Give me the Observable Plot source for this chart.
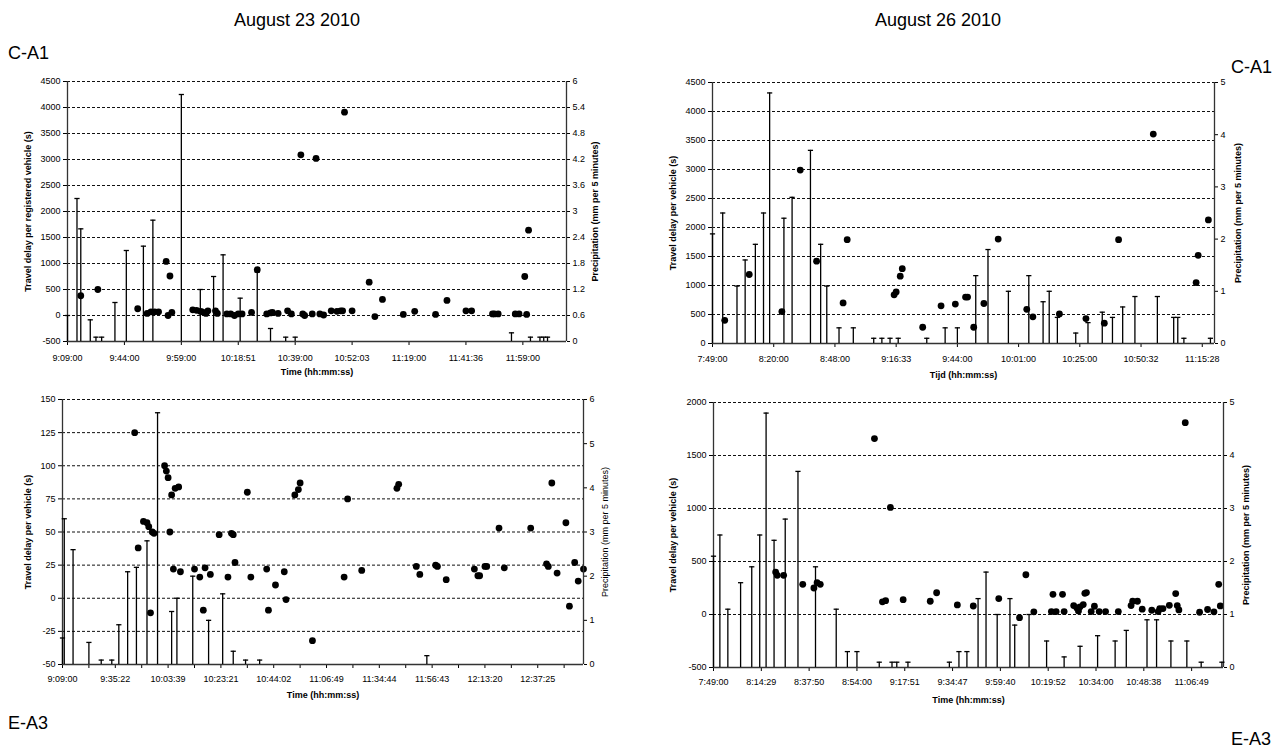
<!DOCTYPE html>
<html>
<head>
<meta charset="utf-8">
<script src="https://cdn.jsdelivr.net/npm/d3@7"></script>
<script src="https://cdn.jsdelivr.net/npm/@observablehq/plot@0.6"></script>
<style>
  html, body { margin: 0; padding: 0; background: #fff; overflow: hidden; }
  #page { position: relative; width: 1279px; height: 748px; font-family: Arial, "Liberation Sans", sans-serif; color: #000; }
  .lbl { position: absolute; font-size: 18px; line-height: 20px; white-space: nowrap; }
  .layer { position: absolute; }
</style>
</head>
<body>
<div id="page">
  <div class="lbl" style="left:197px;width:200px;text-align:center;top:10px;">August 23 2010</div>
  <div class="lbl" style="left:838px;width:200px;text-align:center;top:10px;">August 26 2010</div>
  <div class="lbl" style="left:8px;top:43px;">C-A1</div>
  <div class="lbl" style="right:7px;top:57px;">C-A1</div>
  <div class="lbl" style="left:8px;top:713px;">E-A3</div>
  <div class="lbl" style="right:8px;top:729px;">E-A3</div>
</div>
<script>
// Observations are placed by their sequence number along a category axis;
// only some of them carry a time label. Delay is [obs, seconds], rain is [obs, mm].

// ---- August 23 2010, C-A1 ----
const tlTimeLabels = ["9:09:00","9:44:00","9:59:00","10:18:51","10:39:00","10:52:03","11:19:00","11:41:36","11:59:00"];
const tlDelay = [[7,380],[16,500],[37,130],[42,40],[44,70],[46,70],[48,70],[52,1040],[53,0],[54,760],[55,60],
  [66,110],[68,100],[70,80],[71,70],[73,40],[74,90],[78,90],[79,40],[84,30],[86,30],[88,0],[90,30],[92,30],
  [97,60],[100,880],[105,30],[107,50],[108,60],[111,40],[116,90],[118,30],[123,3090],[124,30],[125,0],[129,30],
  [131,3020],[133,30],[135,10],[139,90],[142,80],[144,90],[145,90],[146,3910],[150,90],[159,640],[162,-20],
  [166,310],[177,20],[183,80],[194,20],[200,290],[210,90],[213,90],[224,30],[225,30],[227,30],[236,30],[238,30],
  [241,750],[242,20],[243,1640]];
const tlRain = [[0,0.6],[5,3.3],[7,2.6],[12,0.5],[15,0.1],[18,0.1],[25,0.9],[31,2.1],[40,2.2],[45,2.8],[60,5.7],
  [70,1.2],[77,1.5],[82,2.0],[91,1.0],[100,1.6],[107,0.3],[115,0.1],[120,0.1],[234,0.2],[244,0.1],[249,0.1],
  [251,0.1],[253,0.1]];
const tlDelayTicks = [-500,0,500,1000,1500,2000,2500,3000,3500,4000,4500];
const tlRainTicks = [0,0.6,1.2,1.8,2.4,3,3.6,4.2,4.8,5.4,6];

// ---- August 26 2010, C-A1 ----
const trTimeLabels = ["7:49:00","8:20:00","8:48:00","9:16:33","9:44:00","10:01:00","10:25:00","10:50:32","11:15:28"];
const trDelay = [[6,400],[18,1190],[34,550],[43,2990],[51,1420],[64,700],[66,1790],[89,840],[90,890],[92,1160],
  [93,1290],[103,280],[112,650],[119,680],[124,800],[125,800],[128,280],[133,690],[140,1800],[154,590],[157,460],
  [170,510],[183,430],[192,350],[199,1790],[216,3610],[237,1050],[238,1520],[243,2130]];
const trRain = [[0,2.1],[5,2.5],[12,1.1],[16,1.6],[21,1.9],[25,2.5],[28,4.8],[35,2.4],[39,2.8],[48,3.7],[53,1.9],
  [56,1.1],[62,0.3],[69,0.3],[79,0.1],[83,0.1],[87,0.1],[91,0.1],[105,0.1],[114,0.3],[120,0.3],[129,1.3],
  [135,1.8],[145,1.0],[155,1.3],[162,0.8],[165,1.0],[169,0.5],[178,0.2],[184,0.4],[191,0.6],[196,0.5],[201,0.7],
  [207,0.9],[218,0.9],[226,0.5],[228,0.5],[231,0.1],[244,0.1]];
const trDelayTicks = [0,500,1000,1500,2000,2500,3000,3500,4000,4500];
const trRainTicks = [0,1,2,3,4,5];

// ---- August 23 2010, E-A3 ----
const blTimeLabels = ["9:09:00","9:35:22","10:03:39","10:23:21","10:44:02","11:06:49","11:34:44","11:56:43","12:13:20","12:37:25"];
const blDelay = [[41,125],[43,38],[46,58],[48,57],[49,54],[50,-11],[51,50],[52,49],[58,100],[59,96],[60,91],
  [61,50],[62,78],[63,22],[64,83],[66,84],[67,20],[75,22],[78,16],[80,-9],[81,23],[84,18],[89,48],[94,16],
  [96,49],[97,48],[98,27],[105,80],[107,16],[116,22],[117,-9],[121,10],[126,20],[127,-1],[132,78],[134,82],
  [135,87],[142,-32],[160,16],[162,75],[170,21],[190,83],[191,86],[201,24],[203,18],[212,25],[213,24],[218,14],
  [234,22],[236,17],[237,17],[240,24],[241,24],[248,53],[251,23],[266,53],[275,26],[276,24],[278,87],[281,19],
  [286,57],[288,-6],[291,27],[293,13],[296,22]];
const blRain = [[0,0.6],[1,3.3],[6,2.6],[15,0.5],[22,0.1],[28,0.1],[32,0.9],[37,2.1],[42,2.2],[48,2.8],[54,5.7],
  [62,1.2],[65,1.5],[74,2.0],[83,1.0],[91,1.6],[97,0.3],[104,0.1],[112,0.1],[207,0.2]];
const blDelayTicks = [-50,-25,0,25,50,75,100,125,150];
const blRainTicks = [0,1,2,3,4,5,6];

// ---- August 26 2010, E-A3 ----
const brTimeLabels = ["7:49:00","8:14:29","8:37:50","8:54:00","9:17:51","9:34:47","9:59:40","10:19:52","10:34:00","10:48:38","11:06:49"];
const brDelay = [[39,400],[40,370],[44,370],[56,285],[63,250],[65,300],[67,285],[101,1660],[106,120],[108,130],
  [111,1010],[119,140],[136,125],[140,205],[153,90],[163,80],[179,150],[192,-30],[196,375],[201,25],[212,28],
  [213,190],[215,28],[219,190],[220,28],[226,84],[228,62],[229,34],[230,72],[232,94],[233,200],[234,207],
  [237,28],[239,78],[242,28],[246,28],[254,28],[262,84],[263,125],[266,125],[269,50],[275,40],[279,28],[280,56],
  [282,56],[286,87],[290,197],[291,84],[292,43],[296,1810],[305,21],[310,47],[314,25],[317,285],[318,81]];
const brRain = [[0,2.1],[4,2.5],[9,1.1],[17,1.6],[24,1.9],[29,2.5],[33,4.8],[38,2.4],[45,2.8],[53,3.7],[64,1.9],
  [77,1.1],[84,0.3],[90,0.3],[104,0.1],[112,0.1],[115,0.1],[122,0.1],[148,0.1],[154,0.3],[159,0.3],[166,1.3],
  [171,1.8],[178,1.0],[186,1.3],[189,0.8],[198,1.0],[209,0.5],[220,0.2],[230,0.4],[241,0.6],[252,0.5],[259,0.7],
  [272,0.9],[278,0.9],[287,0.5],[297,0.5],[306,0.1],[319,0.1]];
const brDelayTicks = [-500,0,500,1000,1500,2000];
const brRainTicks = [0,1,2,3,4,5];

const FONT = 'Arial, "Liberation Sans", sans-serif';
const INK = "#000";

// Horizontal cap drawn on top of each precipitation stick.
const capSymbol = { draw(ctx) { ctx.moveTo(-2.6, 0); ctx.lineTo(2.6, 0); } };

function drawPanel(p) {
  const M = { l: 70, r: 70, t: 12, b: 45 };
  const fw = p.right - p.left, fh = p.bottom - p.top;
  const W = fw + M.l + M.r, H = fh + M.t + M.b;
  const labelAt = p.timeLabels.map((_, k) => k * p.step);
  const common = {
    width: W, height: H,
    marginLeft: M.l, marginRight: M.r, marginTop: M.t, marginBottom: M.b,
    style: { background: "transparent", fontFamily: FONT, fontSize: "9px", color: INK, overflow: "visible" }
  };
  const yMin = p.delayTicks[0], yMax = p.delayTicks[p.delayTicks.length - 1];

  const delayMarks = [
    Plot.ruleY(p.delayTicks.slice(1), { stroke: "#111", strokeWidth: 1, strokeDasharray: "3,2" }),
    Plot.axisY({ ticks: p.delayTicks, tickFormat: d => String(d), tickSize: 4, tickPadding: 3, label: null }),
    Plot.axisX({ ticks: labelAt, tickFormat: (d, i) => p.timeLabels[i], tickSize: 4, tickPadding: p.xPad, label: null })
  ];
  if (p.minor) {
    delayMarks.push(Plot.axisX({ ticks: labelAt.map(v => v + p.step / 2).filter(v => v < p.n), tickFormat: () => "", tickSize: 4, label: null }));
  }
  delayMarks.push(
    Plot.ruleX([0], { stroke: "#333", strokeWidth: 1.3 }),
    Plot.ruleY([yMin], { stroke: "#333", strokeWidth: 1.3 }),
    Plot.dot(p.delay, { x: d => d[0], y: d => d[1], r: 3.4, fill: INK, stroke: "none" }),
    Plot.text([p.yTitle], { text: d => d, frameAnchor: "left", dx: p.yTitleDx, rotate: -90, textAnchor: "middle", lineAnchor: "middle", fontWeight: "bold", fontSize: 9 }),
    Plot.text([p.xTitle], { text: d => d, frameAnchor: "bottom", dy: p.xTitleDy, textAnchor: "middle", lineAnchor: "middle", fontWeight: "bold", fontSize: 9 })
  );

  const delayPlot = Plot.plot({
    ...common,
    x: { domain: [0, p.n] },
    y: { domain: [yMin, yMax] },
    marks: delayMarks
  });

  const rainPlot = Plot.plot({
    ...common,
    x: { domain: [0, p.n], axis: null },
    y: { domain: [0, p.rainTicks[p.rainTicks.length - 1]] },
    marks: [
      Plot.ruleX([p.n], { stroke: "#333", strokeWidth: 1.3 }),
      Plot.axisY({ anchor: "right", ticks: p.rainTicks, tickFormat: d => String(d), tickSize: 3, tickPadding: 3, label: null }),
      Plot.ruleX(p.rain, { x: d => d[0], y1: 0, y2: d => d[1], stroke: INK, strokeWidth: 1.3 }),
      Plot.dot(p.rain, { x: d => d[0], y: d => d[1], symbol: capSymbol, fill: "none", stroke: INK, strokeWidth: 1.3 }),
      Plot.text([p.rainTitle], { text: d => d, frameAnchor: "right", dx: p.rainTitleDx, rotate: -90, textAnchor: "middle", lineAnchor: "middle", fontWeight: p.rainBold ? "bold" : "normal", fontSize: 9 })
    ]
  });

  for (const svg of [delayPlot, rainPlot]) {
    svg.classList.add("layer");
    svg.style.left = (p.left - M.l) + "px";
    svg.style.top = (p.top - M.t) + "px";
    svg.style.maxWidth = "none";
    document.getElementById("page").appendChild(svg);
  }
}

drawPanel({
  left: 67, right: 566, top: 81, bottom: 341, n: 263, step: 30,
  timeLabels: tlTimeLabels, delay: tlDelay, rain: tlRain,
  delayTicks: tlDelayTicks, rainTicks: tlRainTicks, xPad: 9,
  yTitle: "Travel delay per registered vehicle (s)", yTitleDx: -39,
  xTitle: "Time (hh:mm:ss)", xTitleDy: 31,
  rainTitle: "Precipitation (mm per 5 minutes)", rainTitleDx: 29, rainBold: true
});
drawPanel({
  left: 712, right: 1214, top: 82, bottom: 343, n: 246, step: 30,
  timeLabels: trTimeLabels, delay: trDelay, rain: trRain,
  delayTicks: trDelayTicks, rainTicks: trRainTicks, xPad: 8,
  yTitle: "Travel delay per vehicle (s)", yTitleDx: -39,
  xTitle: "Tijd (hh:mm:ss)", xTitleDy: 32,
  rainTitle: "Precipitation (mm per 5 minutes)", rainTitleDx: 24, rainBold: true
});
drawPanel({
  left: 62, right: 583, top: 399, bottom: 664, n: 296, step: 30, minor: true,
  timeLabels: blTimeLabels, delay: blDelay, rain: blRain,
  delayTicks: blDelayTicks, rainTicks: blRainTicks, xPad: 7,
  yTitle: "Travel delay per vehicle (s)", yTitleDx: -34,
  xTitle: "Time (hh:mm:ss)", xTitleDy: 31,
  rainTitle: "Precipitation (mm per 5 minutes)", rainTitleDx: 22, rainBold: false
});
drawPanel({
  left: 713, right: 1223, top: 402, bottom: 667, n: 320, step: 30,
  timeLabels: brTimeLabels, delay: brDelay, rain: brRain,
  delayTicks: brDelayTicks, rainTicks: brRainTicks, xPad: 7,
  yTitle: "Travel delay per vehicle (s)", yTitleDx: -40,
  xTitle: "Time (hh:mm:ss)", xTitleDy: 33,
  rainTitle: "Precipitation (mm per 5 minutes)", rainTitleDx: 23, rainBold: true
});
</script>
</body>
</html>
